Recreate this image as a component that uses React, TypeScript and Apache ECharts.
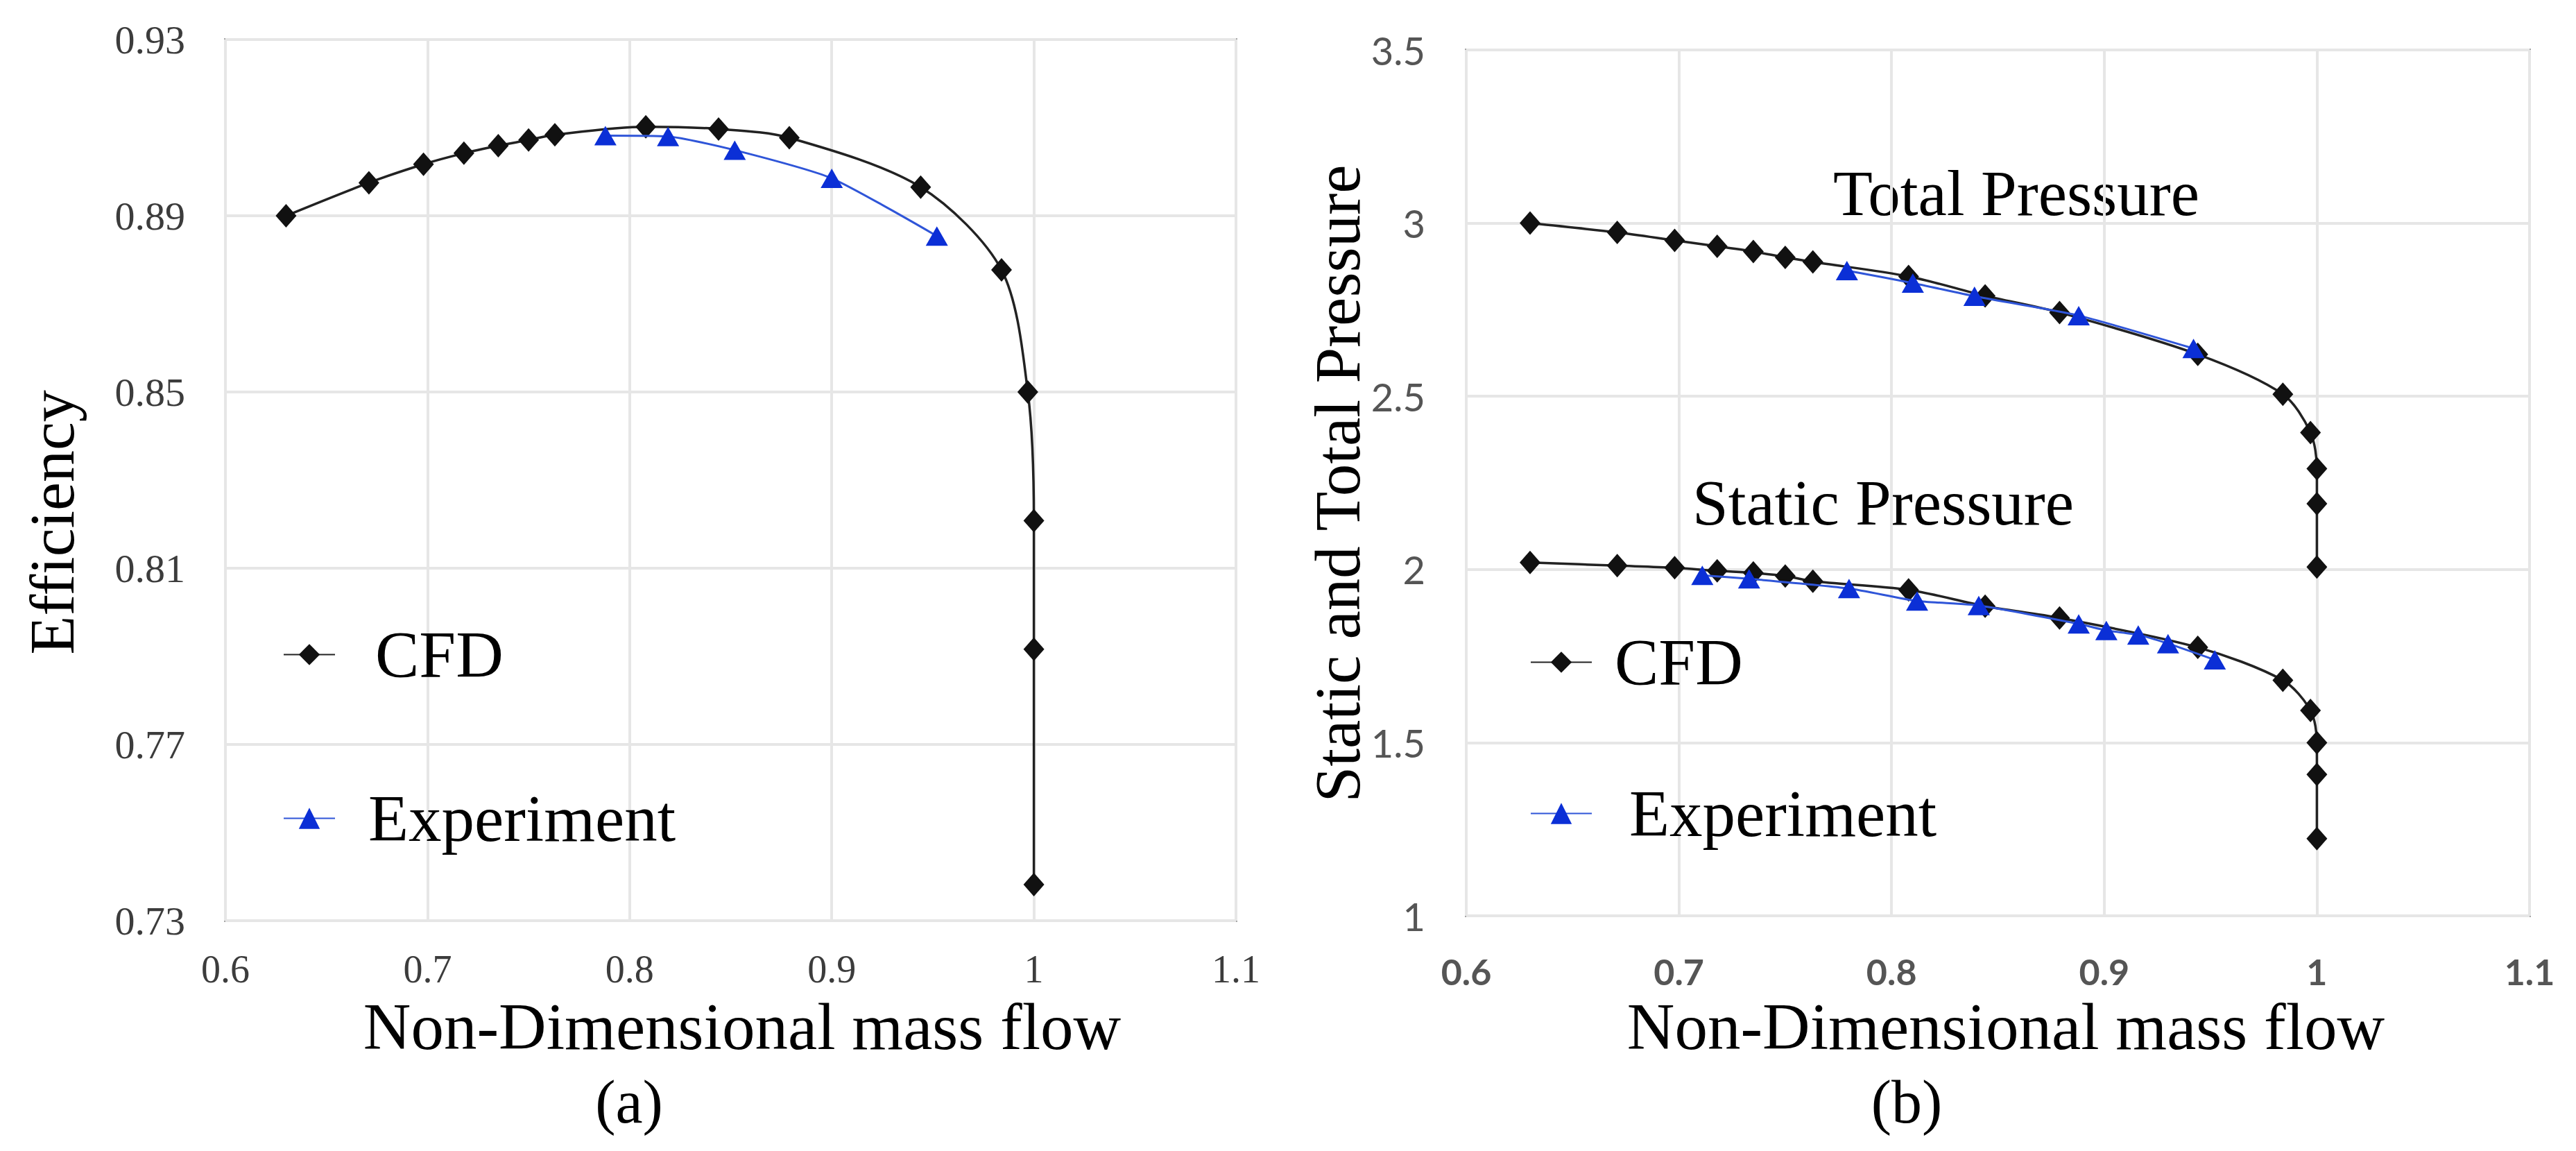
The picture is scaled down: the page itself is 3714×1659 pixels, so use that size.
import React, { useEffect, useRef } from "react";
import * as echarts from "echarts";

// ---------- data ----------
const cfdFlow = [0.63, 0.671, 0.698, 0.718, 0.735, 0.75, 0.763, 0.808, 0.844, 0.879, 0.944, 0.984, 0.997, 1.0, 1.0, 1.0];
const cfdEfficiency = [0.89, 0.8975, 0.9017, 0.9042, 0.9059, 0.9072, 0.9084, 0.9102, 0.9097, 0.9077, 0.8965, 0.8777, 0.85, 0.8208, 0.7916, 0.7382];
const expEffFlow = [0.788, 0.819, 0.852, 0.9, 0.952];
const expEfficiency = [0.9082, 0.908, 0.9049, 0.8985, 0.8854];

const cfdTotalPressure = [3.0, 2.973, 2.95, 2.933, 2.918, 2.901, 2.888, 2.846, 2.79, 2.742, 2.621, 2.506, 2.395, 2.291, 2.19, 2.007];
const cfdStaticPressure = [2.02, 2.011, 2.005, 1.996, 1.99, 1.981, 1.966, 1.941, 1.894, 1.86, 1.775, 1.68, 1.593, 1.5, 1.408, 1.223];
const expTotalFlow = [0.779, 0.81, 0.839, 0.888, 0.942];
const expTotalPressure = [2.863, 2.827, 2.789, 2.733, 2.638];
const expStaticFlow = [0.711, 0.733, 0.78, 0.812, 0.841, 0.888, 0.901, 0.916, 0.93, 0.952];
const expStaticPressure = [1.983, 1.973, 1.945, 1.909, 1.896, 1.843, 1.824, 1.811, 1.786, 1.739];

const xTitle = "Non-Dimensional mass flow";
const yTitleA = "Efficiency";
const yTitleB = "Static and Total Pressure";
const legendNames = ["CFD", "Experiment"];
const annotations = ["Total Pressure", "Static Pressure"];
const panelLabels = ["(a)", "(b)"];

const zip = (xs: number[], ys: number[]) => xs.map((x, i) => [x, ys[i]]);

// ---------- styles ----------
const SERIF = '"Liberation Serif", "Times New Roman", serif';
const SANS = 'Lato, "Open Sans", sans-serif';
const BLACK = "#111111";
const BLUE_LINE = "#2f55d8";
const BLUE_MARK = "#0b2fd6";
const GRIDLINE = "#e6e6e6";
const FRAME = "#a8a8a8";

const cfdSeries = (name: string, data: number[][], idx: number) => ({
  name,
  type: "line",
  xAxisIndex: idx,
  yAxisIndex: idx,
  data,
  smooth: 0.3,
  symbol: "diamond",
  symbolSize: [30, 34],
  itemStyle: { color: BLACK },
  lineStyle: { color: "#222222", width: 3.5 },
  z: 2,
});

const expSeries = (name: string, data: number[][], idx: number) => ({
  name,
  type: "line",
  xAxisIndex: idx,
  yAxisIndex: idx,
  data,
  smooth: 0.2,
  symbol: "triangle",
  symbolSize: [32, 28],
  itemStyle: { color: BLUE_MARK },
  lineStyle: { color: BLUE_LINE, width: 3 },
  z: 3,
});

const legendItem = (name: string, left: number, top: number, width: number, pad: number) => ({
  data: [name],
  left,
  top,
  padding: 0,
  itemWidth: width,
  itemHeight: 38,
  selectedMode: false,
  textStyle: { fontFamily: SERIF, fontSize: 95, color: "#000", padding: [0, 0, 0, pad] },
});

const text = (t: string, x: number, y: number, size: number, rot = 0) => ({
  type: "text",
  x,
  y,
  rotation: rot,
  style: {
    text: t,
    fontFamily: SERIF,
    fontSize: size,
    fill: "#000",
    align: "center",
    verticalAlign: "middle",
  },
});

const option: any = {
  animation: false,
  backgroundColor: "#ffffff",
  grid: [
    { left: 325, top: 57, width: 1457, height: 1270, show: true, borderColor: FRAME, borderWidth: 4, backgroundColor: "transparent" },
    { left: 2114, top: 72, width: 1533, height: 1248, show: true, borderColor: FRAME, borderWidth: 4, backgroundColor: "transparent" },
  ],
  xAxis: [
    {
      type: "value", gridIndex: 0, min: 0.6, max: 1.1, interval: 0.1,
      axisLine: { show: false }, axisTick: { show: false },
      splitLine: { show: true, lineStyle: { color: GRIDLINE, width: 4 } },
      axisLabel: { margin: 42, fontFamily: SERIF, fontSize: 56, color: "#3c3c3c" },
    },
    {
      type: "value", gridIndex: 1, min: 0.6, max: 1.1, interval: 0.1,
      axisLine: { show: false }, axisTick: { show: false },
      splitLine: { show: true, lineStyle: { color: GRIDLINE, width: 4 } },
      axisLabel: { margin: 54, fontFamily: SANS, fontSize: 52, fontWeight: "bold", color: "#555555" },
    },
  ],
  yAxis: [
    {
      type: "value", gridIndex: 0, min: 0.73, max: 0.93, interval: 0.04,
      axisLine: { show: false }, axisTick: { show: false },
      splitLine: { show: true, lineStyle: { color: GRIDLINE, width: 4 } },
      axisLabel: { margin: 58, fontFamily: SERIF, fontSize: 58, color: "#3c3c3c", formatter: (v: number) => v.toFixed(2) },
    },
    {
      type: "value", gridIndex: 1, min: 1, max: 3.5, interval: 0.5,
      axisLine: { show: false }, axisTick: { show: false },
      splitLine: { show: true, lineStyle: { color: GRIDLINE, width: 4 } },
      axisLabel: { margin: 59, fontFamily: SANS, fontSize: 56, color: "#555555" },
    },
  ],
  legend: [
    legendItem(legendNames[0], 408, 896, 74, 53),
    legendItem(legendNames[1], 408, 1132, 74, 43),
    legendItem(legendNames[0], 2206, 907, 88, 28),
    legendItem(legendNames[1], 2206, 1125, 88, 49),
  ],
  series: [
    cfdSeries(legendNames[0], zip(cfdFlow, cfdEfficiency), 0),
    expSeries(legendNames[1], zip(expEffFlow, expEfficiency), 0),
    cfdSeries(legendNames[0], zip(cfdFlow, cfdTotalPressure), 1),
    cfdSeries(legendNames[0], zip(cfdFlow, cfdStaticPressure), 1),
    expSeries(legendNames[1], zip(expTotalFlow, expTotalPressure), 1),
    expSeries(legendNames[1], zip(expStaticFlow, expStaticPressure), 1),
  ],
  graphic: [
    text(yTitleA, 75, 753, 92, Math.PI / 2),
    text(xTitle, 1070, 1480, 95),
    text(panelLabels[0], 907, 1588, 88),
    text(yTitleB, 1928, 697, 93, Math.PI / 2),
    text(xTitle, 2892, 1480, 95),
    text(panelLabels[1], 2749, 1588, 88),
    text(annotations[0], 2907, 278, 93),
    text(annotations[1], 2715, 724, 93),
  ],
};

export default function App() {
  const ref = useRef<HTMLDivElement>(null);
  useEffect(() => {
    if (!ref.current) return;
    const chart = echarts.init(ref.current, null, { renderer: "svg" });
    chart.setOption(option);
    return () => chart.dispose();
  }, []);
  return (
    <div
      ref={ref}
      style={{ position: "absolute", left: 0, top: 0, width: 3714, height: 1659, background: "#ffffff" }}
    />
  );
}
